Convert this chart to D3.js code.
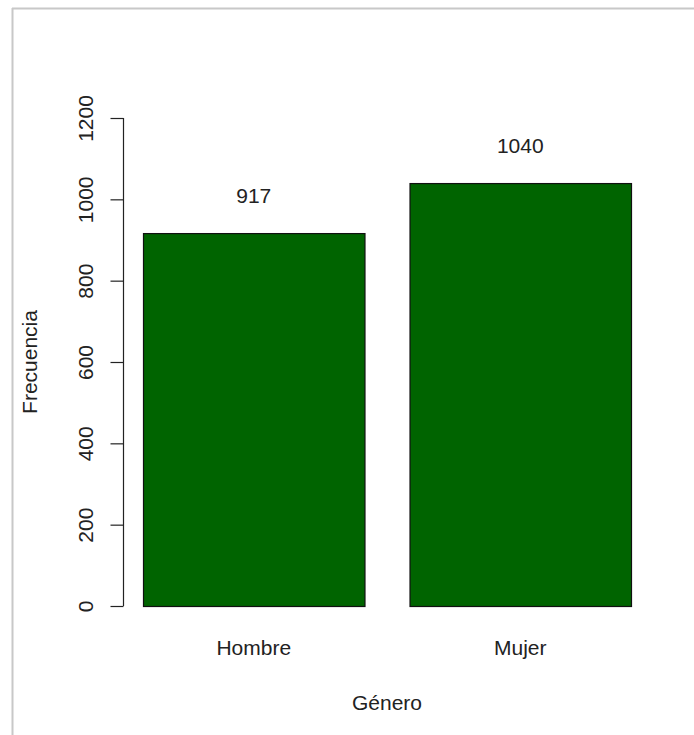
<!DOCTYPE html>
<html>
<head>
<meta charset="utf-8">
<script src="https://cdn.jsdelivr.net/npm/d3@7"></script>
<style>
  html, body { margin: 0; padding: 0; background: #fff; }
  svg { display: block; }
  text { font-family: "Liberation Sans", Arial, sans-serif; fill: #222; }
</style>
</head>
<body>
<svg id="chart" width="694" height="735"></svg>
<script>
const categories = ["Hombre", "Mujer"];
const values = [917, 1040];
const yTicks = [0, 200, 400, 600, 800, 1000, 1200];
const xTitle = "Género";
const yTitle = "Frecuencia";

const svg = d3.select("#chart");

// frame border (top and left)
svg.append("line").attr("x1", 12).attr("x2", 694).attr("y1", 8.5).attr("y2", 8.5)
  .attr("stroke", "#c8c8c8").attr("stroke-width", 2);
svg.append("line").attr("x1", 12.5).attr("x2", 12.5).attr("y1", 8).attr("y2", 735)
  .attr("stroke", "#c8c8c8").attr("stroke-width", 2);

const x = d3.scaleBand().domain(categories).range([143, 631])
  .paddingInner(0.169).paddingOuter(0);
const y = d3.scaleLinear().domain([0, 1200]).range([606, 118]);

// bars
svg.selectAll("rect.bar").data(categories).enter().append("rect")
  .attr("class", "bar")
  .attr("x", d => x(d) + 0.5)
  .attr("y", (d, i) => y(values[i]) + 0.5)
  .attr("width", x.bandwidth())
  .attr("height", (d, i) => y(0) - y(values[i]))
  .attr("fill", "#006400")
  .attr("stroke", "#111")
  .attr("stroke-width", 1.2);

// value labels
svg.selectAll("text.val").data(categories).enter().append("text")
  .attr("class", "val")
  .attr("x", d => x(d) + x.bandwidth() / 2)
  .attr("y", (d, i) => y(values[i]) - 30)
  .attr("text-anchor", "middle")
  .attr("font-size", 21)
  .text((d, i) => values[i]);

// y axis
const yAxis = d3.axisLeft(y).tickValues(yTicks).tickFormat(d3.format("d")).tickSize(13).tickPadding(18);
const gy = svg.append("g").attr("transform", "translate(123.5,0)").call(yAxis);
gy.select(".domain").attr("stroke", "#222").attr("stroke-width", 1.2).attr("d", `M0,${y(1200)}V${y(0)}`);
gy.selectAll(".tick line").attr("stroke", "#222").attr("stroke-width", 1.2);
gy.selectAll(".tick text")
  .attr("font-size", 21)
  .attr("fill", "#222")
  .attr("font-family", "Liberation Sans, Arial, sans-serif")
  .attr("transform", "rotate(-90)")
  .attr("x", 0)
  .attr("y", -31)
  .attr("dy", 0)
  .attr("text-anchor", "middle");

// x category labels
svg.selectAll("text.cat").data(categories).enter().append("text")
  .attr("class", "cat")
  .attr("x", d => x(d) + x.bandwidth() / 2)
  .attr("y", 655)
  .attr("text-anchor", "middle")
  .attr("font-size", 21)
  .text(d => d);

// axis titles
svg.append("text").attr("x", 387).attr("y", 710)
  .attr("text-anchor", "middle").attr("font-size", 21).text(xTitle);
svg.append("text")
  .attr("transform", "translate(37,362) rotate(-90)")
  .attr("text-anchor", "middle").attr("font-size", 21).text(yTitle);
</script>
</body>
</html>
